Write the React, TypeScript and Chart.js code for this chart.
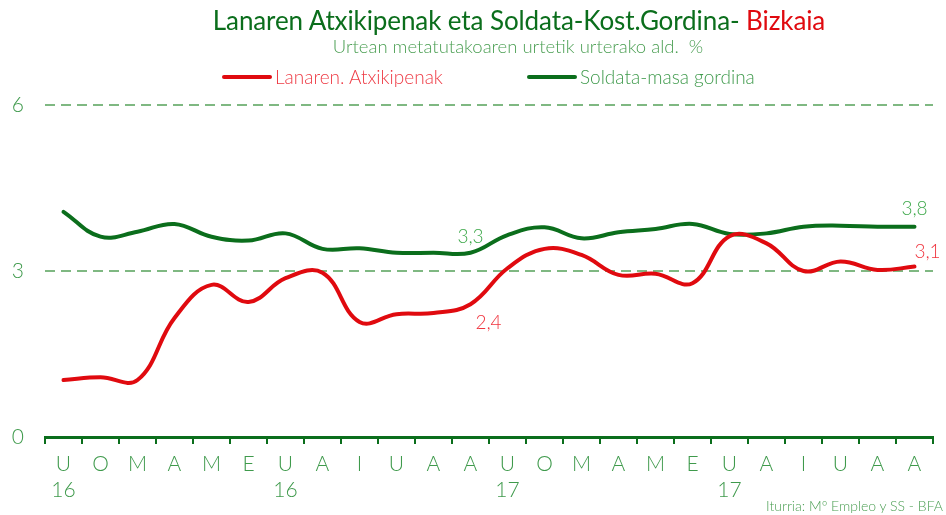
import React, { useEffect, useRef } from "react";
import { Chart, registerables } from "chart.js";

Chart.register(...registerables);

const monthLetters = ["U", "O", "M", "A", "M", "E", "U", "A", "I", "U", "A", "A", "U", "O", "M", "A", "M", "E", "U", "A", "I", "U", "A", "A"];
const yearLabels = ["16", "", "", "", "", "", "16", "", "", "", "", "", "17", "", "", "", "", "", "17", "", "", "", "", ""];

const lanarenAtxikipenak = [1.03, 1.08, 1.03, 2.15, 2.75, 2.44, 2.87, 2.97, 2.08, 2.22, 2.24, 2.4, 3.05, 3.4, 3.29, 2.93, 2.95, 2.78, 3.63, 3.5, 3.0, 3.17, 3.02, 3.08];
const soldataMasa = [4.07, 3.62, 3.71, 3.85, 3.62, 3.55, 3.68, 3.4, 3.41, 3.33, 3.33, 3.33, 3.65, 3.79, 3.59, 3.7, 3.76, 3.85, 3.67, 3.68, 3.8, 3.82, 3.8, 3.8];

const yTicks = [0, 3, 6];

const RED = "#e00a0f";
const GREEN = "#0b6e1c";
const LIGHT_GREEN = "#3f9a4c";
const FONT = "Lato, 'Open Sans', sans-serif";

const labelPlugin = {
  id: "valueLabels",
  afterDatasetsDraw(chart: any) {
    const ctx = chart.ctx;
    const items = [
      { ds: 1, i: 11, dx: 0, dy: -16, color: "#3da84a", text: "3,3" },
      { ds: 0, i: 11, dx: 18, dy: 19, color: "#f0343e", text: "2,4" },
      { ds: 1, i: 23, dx: 0, dy: -18, color: "#3da84a", text: "3,8" },
      { ds: 0, i: 23, dx: 13, dy: -15, color: "#f0343e", text: "3,1" },
    ];
    ctx.save();
    ctx.font = `300 19px ${FONT}`;
    ctx.textAlign = "center";
    ctx.textBaseline = "middle";
    items.forEach((it) => {
      const pt = chart.getDatasetMeta(it.ds).data[it.i];
      if (!pt) return;
      ctx.fillStyle = it.color;
      ctx.fillText(it.text, pt.x + it.dx, pt.y + it.dy);
    });
    ctx.restore();
  },
};

export default function App() {
  const canvasRef = useRef<HTMLCanvasElement | null>(null);

  useEffect(() => {
    const canvas = canvasRef.current;
    if (!canvas) return;
    const chart = new Chart(canvas, {
      type: "line",
      data: {
        labels: monthLetters.map((m, i) => (yearLabels[i] ? [m, yearLabels[i]] : [m])),
        datasets: [
          {
            label: "Lanaren. Atxikipenak",
            data: lanarenAtxikipenak,
            borderColor: RED,
            backgroundColor: RED,
            borderWidth: 4,
            pointRadius: 0,
            tension: 0.4,
            borderCapStyle: "round",
          },
          {
            label: "Soldata-masa gordina",
            data: soldataMasa,
            borderColor: GREEN,
            backgroundColor: GREEN,
            borderWidth: 4,
            pointRadius: 0,
            tension: 0.4,
            borderCapStyle: "round",
          },
        ],
      },
      options: {
        animation: false,
        responsive: false,
        devicePixelRatio: 1,
        layout: { padding: { top: 105, left: 0, right: 13, bottom: 0 } },
        plugins: {
          legend: { display: false },
          title: { display: false },
          tooltip: { enabled: false },
        },
        scales: {
          x: {
            type: "category",
            offset: true,
            afterFit: (s: any) => {
              s.height = 78;
            },
            grid: {
              offset: true,
              drawOnChartArea: false,
              drawTicks: true,
              tickLength: 7,
              color: GREEN,
              lineWidth: 2,
            },
            border: { display: true, color: GREEN, width: 3 },
            ticks: {
              autoSkip: false,
              maxRotation: 0,
              padding: 7,
              color: LIGHT_GREEN,
              font: { family: FONT, size: 21, weight: "300", lineHeight: 1.25 },
            },
          },
          y: {
            min: 0,
            max: 6,
            afterFit: (s: any) => {
              s.width = 45;
            },
            afterBuildTicks: (s: any) => {
              s.ticks = yTicks.map((v) => ({ value: v }));
            },
            grid: {
              drawTicks: false,
              color: (c: any) => (c.tick && c.tick.value === 0 ? "rgba(0,0,0,0)" : "#7fb882"),
              lineWidth: 2,
            },
            border: { display: false, dash: [10, 6] },
            ticks: {
              padding: 21,
              color: LIGHT_GREEN,
              font: { family: FONT, size: 21, weight: "300" },
            },
          },
        },
      },
      plugins: [labelPlugin],
    } as any);
    return () => chart.destroy();
  }, []);

  const legendText: React.CSSProperties = {
    position: "absolute",
    top: 65,
    fontFamily: FONT,
    fontSize: 19,
    fontWeight: 300,
    whiteSpace: "nowrap",
    lineHeight: "24px",
  };

  return (
    <div style={{ position: "fixed", left: 0, top: 0, width: 946, height: 515, background: "#fff", overflow: "hidden" }}>
      <canvas ref={canvasRef} width={946} height={515} style={{ position: "absolute", left: 0, top: 0, width: 946, height: 515 }} />
      <div
        style={{
          position: "absolute",
          left: 519,
          top: 3,
          transform: "translateX(-50%)",
          whiteSpace: "nowrap",
          fontFamily: FONT,
          fontSize: 26,
          lineHeight: "34px",
          color: GREEN,
          letterSpacing: -0.1,
        }}
      >
        Lanaren Atxikipenak eta Soldata-Kost.Gordina- <span style={{ color: RED }}>Bizkaia</span>
      </div>
      <div
        style={{
          position: "absolute",
          left: 518,
          top: 34,
          transform: "translateX(-50%)",
          whiteSpace: "nowrap",
          fontFamily: FONT,
          fontSize: 18.5,
          fontWeight: 300,
          lineHeight: "24px",
          color: "#4a9e52",
        }}
      >
        Urtean metatutakoaren urtetik urterako ald.&nbsp; %
      </div>
      <div style={{ position: "absolute", left: 222, top: 75, width: 50, height: 4, borderRadius: 2, background: RED }} />
      <div style={{ ...legendText, left: 275, color: "#ee3a44" }}>Lanaren. Atxikipenak</div>
      <div style={{ position: "absolute", left: 527, top: 75, width: 50, height: 4, borderRadius: 2, background: GREEN }} />
      <div style={{ ...legendText, left: 580, color: "#3f9a4c" }}>Soldata-masa gordina</div>
      <div
        style={{
          position: "absolute",
          right: 3,
          top: 497,
          whiteSpace: "nowrap",
          fontFamily: FONT,
          fontSize: 14,
          fontWeight: 300,
          lineHeight: "18px",
          color: "#4a9e52",
        }}
      >
        Iturria: Mº Empleo y SS - BFA
      </div>
    </div>
  );
}
